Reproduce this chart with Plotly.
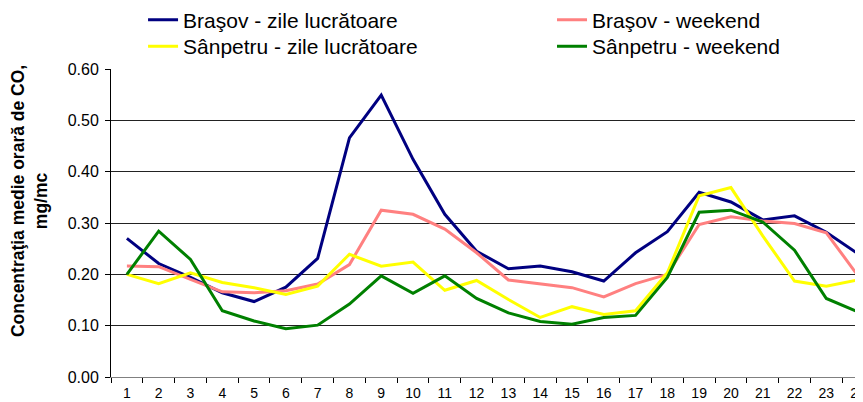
import plotly.graph_objects as go

hours = [str(h) for h in range(1, 25)]
brasov_lucr = [0.270, 0.221, 0.194, 0.164, 0.147, 0.175, 0.231, 0.466, 0.549, 0.424, 0.317, 0.245,
               0.211, 0.216, 0.205, 0.187, 0.242, 0.283, 0.360, 0.341, 0.306, 0.314, 0.282, 0.240]
brasov_wknd = [0.216, 0.215, 0.190, 0.166, 0.164, 0.168, 0.181, 0.219, 0.325, 0.317, 0.288, 0.242,
               0.189, 0.182, 0.174, 0.156, 0.182, 0.200, 0.297, 0.312, 0.304, 0.299, 0.281, 0.197]
sanp_lucr = [0.200, 0.182, 0.203, 0.184, 0.174, 0.161, 0.177, 0.239, 0.216, 0.224, 0.169, 0.188,
             0.151, 0.116, 0.137, 0.122, 0.129, 0.203, 0.353, 0.369, 0.275, 0.187, 0.177, 0.189]
sanp_wknd = [0.200, 0.284, 0.229, 0.129, 0.109, 0.094, 0.101, 0.142, 0.197, 0.163, 0.197, 0.153,
             0.125, 0.108, 0.103, 0.116, 0.120, 0.194, 0.321, 0.325, 0.302, 0.247, 0.153, 0.127]
y_ticks = [0.0, 0.1, 0.2, 0.3, 0.4, 0.5, 0.6]
y_title = "<b>Concentraţia medie orară de CO,<br>mg/mc</b>"

series = [
    ("Braşov - zile lucrătoare", brasov_lucr, "#000080", "legend2"),
    ("Braşov - weekend", brasov_wknd, "#FF8080", "legend3"),
    ("Sânpetru - zile lucrătoare", sanp_lucr, "#FFFF00", "legend4"),
    ("Sânpetru - weekend", sanp_wknd, "#008000", "legend5"),
]

fig = go.Figure()
for name, vals, col, lg in series:
    fig.add_trace(go.Scatter(x=hours, y=vals, mode="lines", name=name,
                             line=dict(color=col, width=3), legend=lg))

font = "Liberation Sans, Arial, sans-serif"
legend_common = dict(orientation="v", font=dict(family=font, size=21, color="#000"),
                     bgcolor="rgba(0,0,0,0)", itemwidth=30,
                     xanchor="left", yanchor="middle", yref="container", xref="paper")

col1, col2 = 0.042, 0.578
row1, row2 = 0.9695, 0.902

fig.update_layout(
    width=866, height=394,
    margin=dict(l=103, r=0, t=61, b=25, autoexpand=False),
    paper_bgcolor="white", plot_bgcolor="white",
    font=dict(family=font, size=16, color="#000"),
    legend2=dict(**legend_common, x=col1, y=row1),
    legend3=dict(**legend_common, x=col2, y=row1),
    legend4=dict(**legend_common, x=col1, y=row2),
    legend5=dict(**legend_common, x=col2, y=row2),
    xaxis=dict(type="category", range=[-0.5, 23.5], tickson="boundaries",
               ticks="outside", ticklen=5, tickcolor="#000", showgrid=False,
               showline=True, linecolor="#808080", linewidth=1,
               ticklabelstandoff=3,
               tickfont=dict(family=font, size=14, color="#000")),
    yaxis=dict(range=[0, 0.6], tickvals=y_ticks, tickformat=".2f",
               ticks="outside", ticklen=5, tickcolor="#000",
               showgrid=True, gridcolor="#222", gridwidth=1,
               showline=True, linecolor="#000", linewidth=1,
               zeroline=False, ticklabelstandoff=3,
               tickfont=dict(family=font, size=16, color="#000")),
    annotations=[dict(text=y_title, textangle=-90, xref="paper", yref="paper",
                      x=-0.1075, y=0.571, xanchor="center", yanchor="middle",
                      showarrow=False, align="center",
                      font=dict(family=font, size=17.5, color="#000"))],
)

fig.write_html("out.html")
